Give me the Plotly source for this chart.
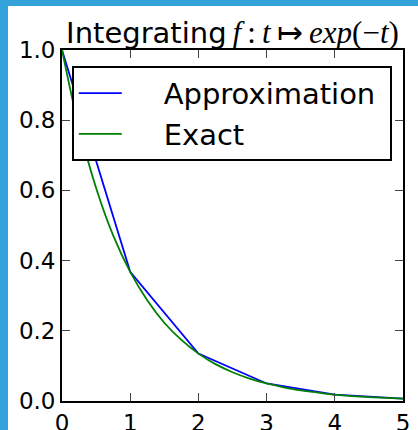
import plotly.graph_objects as go

# Approximation: values at integer steps
t_approx = [0, 1, 2, 3, 4, 5]
y_approx = [1.0, 0.368, 0.135, 0.050, 0.018, 0.007]

# Exact curve
t_exact = [0, 0.25, 0.5, 0.75, 1, 1.25, 1.5, 1.75, 2, 2.25, 2.5, 2.75, 3,
           3.25, 3.5, 3.75, 4, 4.25, 4.5, 4.75, 5]
y_exact = [1.0, 0.779, 0.607, 0.472, 0.368, 0.287, 0.223, 0.174, 0.135, 0.105,
           0.082, 0.064, 0.050, 0.039, 0.030, 0.024, 0.018, 0.014, 0.011, 0.009, 0.007]

x_ticks = [0, 1, 2, 3, 4, 5]
y_ticks = [0.0, 0.2, 0.4, 0.6, 0.8, 1.0]

BLUE = "#34a3db"
BORDER_L, BORDER_T = 8, 6           # blue page border (left, top)
W, H = 418 - BORDER_L, 430 - BORDER_T
L, R, T, B = 54, 15, 44, 29
pw, ph = W - L - R, H - T - B

NB = "\u00a0"
fig = go.Figure()
fig.add_trace(go.Scatter(x=t_approx, y=y_approx, mode="lines",
                         name=NB * 4 + "Approximation" + NB, legendgroup="a",
                         line=dict(color="#0000ff", width=1.8)))
fig.add_trace(go.Scatter(x=t_exact, y=y_exact, mode="lines",
                         name=NB * 4 + "Exact", legendgroup="b",
                         line=dict(color="#008000", width=1.8, shape="spline")))

serif = "font-family:'Liberation Serif',serif;font-size:31px"
title = ("Integrating\u2009<span style=\"" + serif + "\"><i>f</i>\u2009:\u2009<i>t</i>\u2009\u21a6\u2009"
         "<i>exp</i>(\u2212<i>t</i>)</span>")

axis_common = dict(showline=True, linecolor="black", linewidth=1.8, mirror="ticks",
                   ticks="inside", ticklen=8, tickwidth=1, tickcolor="#444",
                   showgrid=False, zeroline=False, automargin=False,
                   tickfont=dict(family="DejaVu Sans", size=23, color="black"))

fig.update_layout(
    width=W, height=H,
    margin=dict(l=L, r=R, t=T, b=B, autoexpand=False),
    paper_bgcolor="white", plot_bgcolor="white",
    title=dict(text=title, x=0.5, xref="paper", xanchor="center",
               y=(H - 37) / H, yref="container", yanchor="bottom", automargin=False,
               font=dict(family="DejaVu Sans", size=29, color="black")),
    xaxis=dict(range=[0, 5], tickvals=x_ticks, ticktext=[str(v) for v in x_ticks],
               **axis_common),
    yaxis=dict(range=[0, 1], tickvals=y_ticks, ticktext=[f"{v:.1f}" for v in y_ticks],
               **axis_common),
    legend=dict(x=(64 - L) / pw, y=1 - (60 - T) / ph, xanchor="left", yanchor="top",
                bgcolor="white", bordercolor="black", borderwidth=1.8,
                itemwidth=43, tracegroupgap=0,
                font=dict(family="DejaVu Sans", size=29, color="black")),
    showlegend=True,
)

post = (
    "document.body.style.margin='0';"
    "document.body.style.overflow='hidden';"
    f"document.body.style.background='{BLUE}';"
    "var d=document.querySelector('.plotly-graph-div');"
    f"d.style.marginLeft='{BORDER_L}px';d.style.marginTop='{BORDER_T}px';"
    "d.parentElement.style.paddingTop='0';"
)
fig.write_html("out.html", config={"displayModeBar": False}, post_script=post)
